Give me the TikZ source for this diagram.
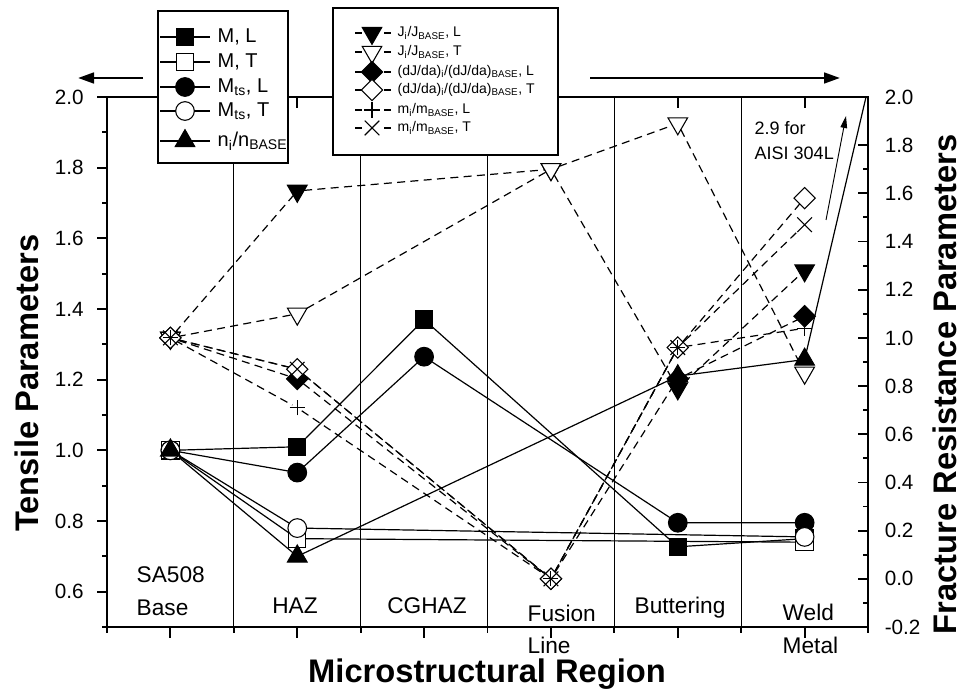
\documentclass[tikz,border=0pt]{standalone}
\usepackage{fontspec}
\setmainfont{Liberation Sans}
\usetikzlibrary{shapes.geometric,shapes.misc,arrows.meta}

\pgfdeclarelayer{back}
\pgfsetlayers{back,main}

\tikzset{
  mbase/.style={draw=black, line width=0.8pt, inner sep=0pt, outer sep=0pt},
  sq/.style={mbase, rectangle, minimum size=13pt},
  ci/.style={mbase, circle, minimum size=14pt},
  tu/.style={mbase, regular polygon, regular polygon sides=3, minimum size=17pt},
  td/.style={tu, shape border rotate=180},
  dm/.style={mbase, diamond, aspect=1, minimum size=16pt},
  pl/.style={mbase, cross out, rotate=45, minimum size=8pt},
  cr/.style={mbase, cross out, minimum size=11pt},
  mfill/.style={fill=black},
  mopen/.style={fill=white},
  solidline/.style={line width=0.9pt},
  dashline/.style={line width=0.9pt, dash pattern=on 6pt off 4pt},
  axis/.style={line width=1.4pt},
  catlbl/.style={font=\fontsize{17}{20}\selectfont},
  ticklbl/.style={font=\fontsize{15.5}{18}\selectfont},
  axtitle/.style={font=\fontsize{24.5}{28}\selectfont\bfseries},
  legbig/.style={font=\fontsize{15}{18}\selectfont},
  legsmall/.style={font=\fontsize{10.5}{12}\selectfont},
}

\begin{document}
\begin{tikzpicture}[x=0.75pt, y=0.75pt]
\useasboundingbox (0,0) rectangle (967,693);

% tensile parameters, left axis
\begin{scope}[x=47.565pt, y=265pt, shift={(80.25pt,-83pt)}]
  % region dividers and ticks
  \foreach \i in {2,4,...,10}
    \draw[line width=0.7pt] (\i,0.5) -- (\i,2.0);
  \foreach \i in {0,2,...,12}
    \draw[axis] (\i,0.5) -- ++(0,-4.5pt);
  \foreach \i in {1,3,...,11} {
    \draw[axis] (\i,0.5) -- ++(0,-8.5pt);
    \draw[axis] (\i,2.0) -- ++(0,-8pt);
  }
  \foreach \v in {0.6,0.8,1.0,1.2,1.4,1.6,1.8,2.0} {
    \draw[axis] (0,\v) -- ++(-7.5pt,0);
    \node[ticklbl, anchor=east] at ([xshift=-14pt]0,\v) {\v};
  }
  \foreach \v in {0.5,0.7,...,1.9}
    \draw[axis] (0,\v) -- ++(-4pt,0);

  % M, L
  \node[sq, mfill] (mL1) at (1,1.00) {};
  \node[sq, mfill] (mL3) at (3,1.01) {};
  \node[sq, mfill] (mL5) at (5,1.37) {};
  \node[sq, mfill] (mL9) at (9,0.727) {};
  \node[sq, mfill] (mL11) at (11,0.75) {};
  % M, T
  \node[sq, mopen] (mT1) at (1,1.00) {};
  \node[sq, mopen] (mT3) at (3,0.75) {};
  \node[sq, mopen] (mT11) at (11,0.74) {};
  % Mts, L
  \node[ci, mfill] (tsL1) at (1,1.00) {};
  \node[ci, mfill] (tsL3) at (3,0.937) {};
  \node[ci, mfill] (tsL5) at (5,1.265) {};
  \node[ci, mfill] (tsL9) at (9,0.795) {};
  \node[ci, mfill] (tsL11) at (11,0.795) {};
  % Mts, T
  \node[ci, mopen] (tsT1) at (1,1.00) {};
  \node[ci, mopen] (tsT3) at (3,0.78) {};
  \node[ci, mopen] (tsT11) at (11,0.755) {};
  % n_i/n_BASE
  \node[tu, mfill] (nb1) at (1,1.00) {};
  \node[tu, mfill] (nb3) at (3,0.70) {};
  \node[tu, mfill] (nb9) at (9,1.21) {};
  \node[tu, mfill] (nb11) at (11,1.257) {};
\end{scope}

% fracture resistance parameters, right axis
\begin{scope}[x=47.565pt, y=180.68pt, shift={(80.25pt,85.64pt)}]
  \foreach \v in {-0.2,0.0,0.2,0.4,0.6,0.8,1.0,1.2,1.4,1.6,1.8,2.0} {
    \draw[axis] (12,\v) -- ++(-7.5pt,0);
    \node[ticklbl, anchor=west] at ([xshift=9pt]12,\v) {\v};
  }
  \foreach \v in {-0.1,0.1,...,1.9}
    \draw[axis] (12,\v) -- ++(-4pt,0);

  % J_i/J_BASE, L
  \node[td, mfill] (jL1) at (1,1.0) {};
  \node[td, mfill] (jL3) at (3,1.61) {};
  \node[td, mfill] (jL7) at (7,1.70) {};
  \node[td, mfill] (jL9) at (9,0.79) {};
  \node[td, mfill] (jL11) at (11,1.28) {};
  % J_i/J_BASE, T
  \node[td, mopen] (jT1) at (1,1.0) {};
  \node[td, mopen] (jT3) at (3,1.10) {};
  \node[td, mopen] (jT7) at (7,1.70) {};
  \node[td, mopen] (jT9) at (9,1.89) {};
  \node[td, mopen] (jT11) at (11,0.855) {};
  % (dJ/da), L
  \node[dm, mfill] (dL1) at (1,1.0) {};
  \node[dm, mfill] (dL3) at (3,0.83) {};
  \node[dm, mfill] (dL7) at (7,0.0) {};
  \node[dm, mfill] (dL9) at (9,0.83) {};
  \node[dm, mfill] (dL11) at (11,1.09) {};
  % (dJ/da), T
  \node[dm, mopen] (dT1) at (1,1.0) {};
  \node[dm, mopen] (dT3) at (3,0.87) {};
  \node[dm, mopen] (dT7) at (7,0.0) {};
  \node[dm, mopen] (dT9) at (9,0.96) {};
  \node[dm, mopen] (dT11) at (11,1.58) {};
  % m_i/m_BASE, L
  \node[pl] (mmL1) at (1,1.0) {};
  \node[pl] (mmL3) at (3,0.71) {};
  \node[pl] (mmL7) at (7,0.0) {};
  \node[pl] (mmL9) at (9,0.96) {};
  \node[pl] (mmL11) at (11,1.04) {};
  % m_i/m_BASE, T
  \node[cr] (mmT1) at (1,1.0) {};
  \node[cr] (mmT3) at (3,0.87) {};
  \node[cr] (mmT7) at (7,0.0) {};
  \node[cr] (mmT9) at (9,0.96) {};
  \node[cr] (mmT11) at (11,1.47) {};
\end{scope}

\coordinate (nTop) at (866,596);

% connecting lines go underneath the symbols
\begin{pgfonlayer}{back}
  \draw[solidline] (mL1) -- (mL3) -- (mL5) -- (mL9) -- (mL11);
  \draw[solidline] (mT1) -- (mT3) -- (mT11);
  \draw[solidline] (tsL1) -- (tsL3) -- (tsL5) -- (tsL9) -- (tsL11);
  \draw[solidline] (tsT1) -- (tsT3) -- (tsT11);
  \draw[solidline] (nb1) -- (nb3) -- (nb9) -- (nb11) -- (nTop);
  \draw[dashline] (jL1) -- (jL3) -- (jL7) -- (jL9) -- (jL11);
  \draw[dashline] (jT1) -- (jT3) -- (jT7) -- (jT9) -- (jT11);
  \draw[dashline] (dL1) -- (dL3) -- (dL7) -- (dL9) -- (dL11);
  \draw[dashline] (dT1) -- (dT3) -- (dT7) -- (dT9) -- (dT11);
  \draw[dashline] (mmL1) -- (mmL3) -- (mmL7) -- (mmL9) -- (mmL11);
  \draw[dashline] (mmT1) -- (mmT3) -- (mmT7) -- (mmT9) -- (mmT11);
\end{pgfonlayer}

% frame
\draw[axis] (107,66) rectangle (868,596);
\draw[axis] (102,66) -- (107,66);

% region names
\node[catlbl, anchor=base west] (cBase1) at (132,111) {SA508};
\node[catlbl, anchor=base west] (cBase2) at (132,78) {Base};
\node[catlbl, anchor=base] (cHaz) at (295,80) {HAZ};
\node[catlbl, anchor=base] (cCg) at (427,80) {CGHAZ};
\node[catlbl, anchor=base west] (cFus1) at (523,72) {Fusion};
\node[catlbl, anchor=base west] (cFus2) at (523,40) {Line};
\node[catlbl, anchor=base] (cBut) at (680,80) {Buttering};
\node[catlbl, anchor=base west] (cWeld1) at (778,73) {Weld};
\node[catlbl, anchor=base west] (cWeld2) at (778,40) {Metal};

% axis titles
\node[axtitle, anchor=base] (xTitle) at (487,11) {Microstructural Region};
\node[axtitle, rotate=90, anchor=east] (yLeft) at (27,463) {Tensile Parameters};
\node[axtitle, rotate=90, anchor=east] (yRight) at (945,563) {Fracture Resistance Parameters};

% note on the weld metal value
\node[font=\fontsize{13.5}{16}\selectfont, anchor=base west] (note1) at (750,558) {2.9 for};
\node[font=\fontsize{13.5}{16}\selectfont, anchor=base west] (note2) at (750,533) {AISI 304L};
\coordinate (noteA) at (826,473);
\coordinate (noteB) at (846,577);
\draw[line width=0.7pt, -{Triangle[length=9pt,width=5pt]}] (noteA) -- (noteB);

% axis side arrows
\coordinate (arLa) at (143,615);
\coordinate (arLb) at (78,615);
\coordinate (arRa) at (590,615);
\coordinate (arRb) at (840,615);
\draw[line width=2pt, -{Triangle[length=12pt,width=8pt]}] (arLa) -- (arLb);
\draw[line width=2pt, -{Triangle[length=12pt,width=8pt]}] (arRa) -- (arRb);

% legend, tensile
\draw[line width=0.8pt, fill=white] (158,682) rectangle (288,530);
\foreach \y/\s/\f/\t in {656/sq/mfill/{M, L}, 631/sq/mopen/{M, T},
    606/ci/mfill/{M\textsubscript{ts}, L}, 582/ci/mopen/{M\textsubscript{ts}, T},
    552/tu/mfill/{n\textsubscript{i}/n\textsubscript{BASE}}} {
  \draw[solidline] (160,\y) -- (210,\y);
  \node[\s, \f] at (185,\y) {};
  \node[legbig, anchor=west] at (213,\y) {\t};
}

% legend, fracture resistance
\draw[line width=0.8pt, fill=white] (333,685) rectangle (558,538);
\foreach \y/\s/\f/\t in {660/td/mfill/{J\textsubscript{i}/J\textsubscript{BASE}, L},
    641/td/mopen/{J\textsubscript{i}/J\textsubscript{BASE}, T},
    621/dm/mfill/{(dJ/da)\textsubscript{i}/(dJ/da)\textsubscript{BASE}, L},
    603/dm/mopen/{(dJ/da)\textsubscript{i}/(dJ/da)\textsubscript{BASE}, T},
    583/pl/mopen/{m\textsubscript{i}/m\textsubscript{BASE}, L},
    565/cr/mopen/{m\textsubscript{i}/m\textsubscript{BASE}, T}} {
  \draw[solidline] (355,\y) -- (362,\y);
  \draw[solidline] (384,\y) -- (391,\y);
  \node[\s, \f] at (372,\y) {};
  \node[legsmall, anchor=west] at (393,\y) {\t};
}

\end{tikzpicture}
\end{document}
